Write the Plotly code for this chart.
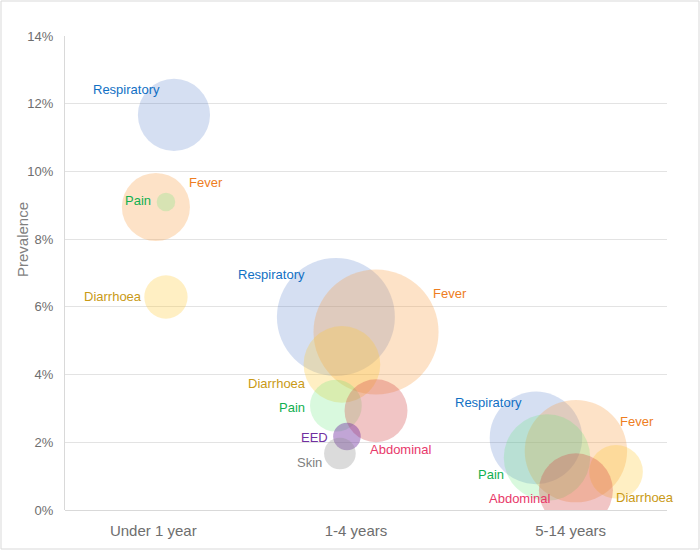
import plotly.graph_objects as go

# ---------------- data ----------------
age_groups = ["Under 1 year", "1-4 years", "5-14 years"]
age_tick_pos = [0.44, 1.45, 2.52]

symptoms = ["Respiratory", "Fever", "Diarrhoea", "Pain", "Abdominal", "EED", "Skin"]

# x position (age-group axis units), prevalence (%), bubble size (relative case counts)
resp_x = [0.543, 1.350, 2.347]
resp_y = [11.67, 5.70, 2.13]
resp_s = [130, 348, 214]

fever_x = [0.453, 1.550, 2.546]
fever_y = [8.95, 5.26, 1.74]
fever_s = [116, 391, 262]

diar_x = [0.503, 1.380, 2.746]
diar_y = [6.29, 4.30, 1.13]
diar_s = [47, 147, 72]

pain_x = [0.503, 1.350, 2.402]
pain_y = [9.10, 3.08, 1.55]
pain_s = [8.6, 67, 187]

abd_x = [1.550, 2.546]
abd_y = [2.93, 0.58]
abd_s = [99, 137]

eed_x = [1.405]
eed_y = [2.17]
eed_s = [19]

skin_x = [1.370]
skin_y = [1.67]
skin_s = [25]

series = {
    "Respiratory": (resp_x, resp_y, resp_s),
    "Fever": (fever_x, fever_y, fever_s),
    "Diarrhoea": (diar_x, diar_y, diar_s),
    "Pain": (pain_x, pain_y, pain_s),
    "Abdominal": (abd_x, abd_y, abd_s),
    "EED": (eed_x, eed_y, eed_s),
    "Skin": (skin_x, skin_y, skin_s),
}

# ---------------- styles ----------------
fill = {
    "Respiratory": "rgba(68,114,196,0.32)",
    "Fever": "rgba(250,160,70,0.43)",
    "Diarrhoea": "rgba(255,200,50,0.42)",
    "Pain": "rgba(100,230,120,0.35)",
    "Abdominal": "rgba(210,70,70,0.45)",
    "EED": "rgba(112,48,160,0.62)",
    "Skin": "rgba(140,140,140,0.45)",
}
label_color = {
    "Respiratory": "#1170C4",
    "Fever": "#EE7D22",
    "Diarrhoea": "#C99A16",
    "Pain": "#12B050",
    "Abdominal": "#E8386A",
    "EED": "#7030A0",
    "Skin": "#7F7F7F",
}
# label offsets (px) relative to each bubble centre: (dx, dy up)
label_offsets = {
    "Respiratory": [(-47, 25), (-64, 43), (-47, 35)],
    "Fever": [(50, 24), (74, 38), (61, 30)],
    "Diarrhoea": [(-53, 1), (-65, -19), (29, -26)],
    "Pain": [(-28, 1), (-44, -2), (-56, -17)],
    "Abdominal": [(25, -39), (-56, -8)],
    "EED": [(-32, -1)],
    "Skin": [(-30, -9)],
}

FONT = "Arial, Liberation Sans, sans-serif"
SIZEREF = 0.05  # radius(px) = sqrt(size / (2*sizeref))

fig = go.Figure()
annotations = []
for name in symptoms:
    xs, ys, ss = series[name]
    fig.add_trace(go.Scatter(
        x=xs, y=ys, mode="markers", name=name,
        marker=dict(size=ss, sizemode="area", sizeref=SIZEREF,
                    color=fill[name], line=dict(width=0)),
        hovertemplate=name + ": %{y:.1f}%<extra></extra>",
    ))
    for (x, y), (dx, dy) in zip(zip(xs, ys), label_offsets[name]):
        annotations.append(dict(
            x=x, y=y, xref="x", yref="y", text=name, showarrow=False,
            xshift=dx, yshift=dy,
            font=dict(family=FONT, size=13, color=label_color[name]),
        ))

# outer chart border and layout geometry
ML, MR, MT, MB = 65, 33, 36, 41
W, H = 700, 551
pw, ph = W - ML - MR, H - MT - MB
border = dict(type="rect", xref="paper", yref="paper",
              x0=(1 - ML) / pw, x1=(W - 1 - ML) / pw,
              y0=-(MB - 2) / ph, y1=(ph + MT - 1) / ph,
              line=dict(color="#D9D9D9", width=1), layer="below")

# y-axis title as rotated annotation
annotations.append(dict(
    text="Prevalence", xref="paper", yref="paper",
    x=(23 - ML) / pw, y=(H - MB - 240) / ph,
    xanchor="center", yanchor="middle", textangle=-90, showarrow=False,
    font=dict(family=FONT, size=15, color="#7F7F7F"),
))

fig.update_layout(
    width=W, height=H,
    margin=dict(l=ML, r=MR, t=MT, b=MB, autoexpand=False),
    paper_bgcolor="white", plot_bgcolor="white",
    showlegend=False,
    font=dict(family=FONT, color="#595959"),
    annotations=annotations,
    shapes=[border],
    xaxis=dict(
        range=[0, 3], tickmode="array", tickvals=age_tick_pos, ticktext=age_groups,
        showgrid=False, zeroline=False, showline=False, automargin=False,
        tickfont=dict(size=15, color="#6E6E6E"), ticks="",
        ticklabelstandoff=10,
    ),
    yaxis=dict(
        range=[0, 14], dtick=2, ticksuffix="%", automargin=False,
        showgrid=True, gridcolor="#E3E3E3", gridwidth=1,
        zeroline=True, zerolinecolor="#D9D9D9", zerolinewidth=1,
        showline=True, linecolor="#D9D9D9", linewidth=1,
        tickfont=dict(size=13, color="#6E6E6E"), ticks="",
        ticklabelstandoff=8,
    ),
)

fig.write_html("out.html", config={"displayModeBar": False},
               post_script="document.body.style.margin='0';document.body.style.overflow='hidden';")
